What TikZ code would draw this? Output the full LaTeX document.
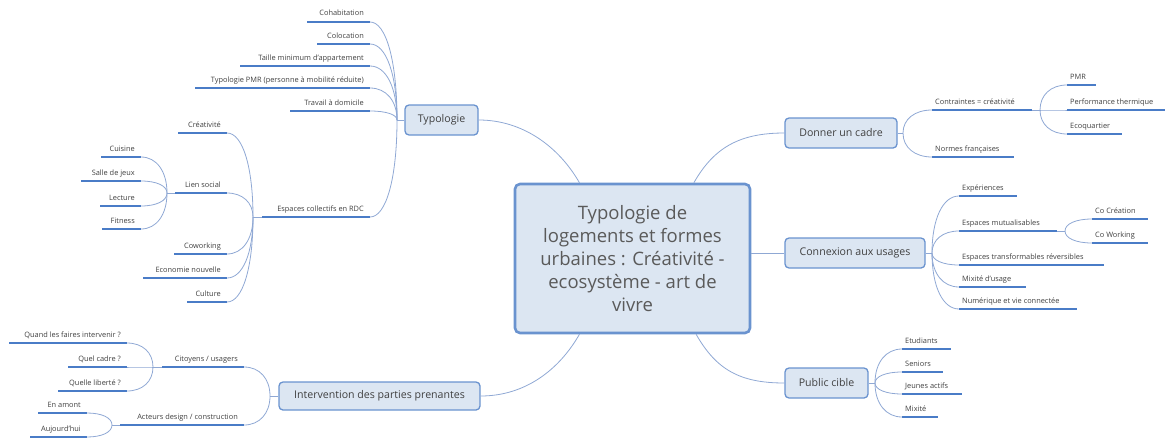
\documentclass[tikz,border=0pt]{standalone}
\usepackage{fontspec}
\setmainfont{Open Sans}
\usetikzlibrary{calc}
\definecolor{boxfill}{HTML}{DCE6F2}
\definecolor{boxline}{HTML}{6A93CF}
\definecolor{ulcol}{HTML}{4A7CC7}
\definecolor{conncol}{HTML}{8FA8D4}
\definecolor{txt}{HTML}{404040}
\definecolor{ctxt}{HTML}{5A5A5A}
\tikzset{
  mainbox/.style={draw=boxline, fill=boxfill, line width=1.3pt, rounded corners=4pt,
    text=txt, font=\fontsize{10.6}{12}\selectfont, inner sep=0pt},
  centerbox/.style={draw=boxline, fill=boxfill, line width=2.6pt, rounded corners=5pt,
    text=ctxt, align=center, font=\fontsize{18.5}{23}\selectfont, inner sep=0pt},
  leaf/.style={text=txt, font=\fontsize{7.4}{8}\selectfont, inner sep=0pt},
  ul/.style={draw=ulcol, line width=2.6pt},
  cn/.style={draw=conncol, line width=0.8pt},
}
\newcommand\leafR[5]{%
  \coordinate (#1-a) at (#2,#4);
  \coordinate (#1-b) at (#3,#4);
  \draw[ul] (#1-a) -- (#1-b);
  \node[leaf, anchor=base west] (#1) at (#2+3,#4-6) {#5};}
\newcommand\leafL[5]{%
  \coordinate (#1-a) at (#2,#4);
  \coordinate (#1-b) at (#3,#4);
  \draw[ul] (#1-a) -- (#1-b);
  \node[leaf, anchor=base east] (#1) at (#3-6,#4-6) {#5};}
\newcommand\branch[2]{%
  \draw[cn] (#1) .. controls ($(#1)!0.6!(#1 |- #2)$) and ($(#2)!0.6!(#1 |- #2)$) .. (#2);}
\begin{document}
\begin{tikzpicture}[x=1pt, y=-1pt]
\useasboundingbox (0,0) rectangle (1166,439);

% main boxes
\node[centerbox, minimum width=235pt, minimum height=149pt] (center) at (632.5,258.5)
  {Typologie de\\logements et formes\\urbaines : Créativité -\\ecosystème - art de\\vivre};
\node[mainbox, minimum width=73pt, minimum height=30pt] (typo) at (441.5,120) {Typologie};
\node[mainbox, minimum width=112pt, minimum height=30pt] (donner) at (841,133) {Donner un cadre};
\node[mainbox, minimum width=140pt, minimum height=30pt] (connexion) at (855,253) {Connexion aux usages};
\node[mainbox, minimum width=83pt, minimum height=30pt] (public) at (826.5,383) {Public cible};
\node[mainbox, minimum width=201pt, minimum height=28pt] (interv) at (379.5,396) {Intervention des parties prenantes};

% connectors from center
\draw[cn] (typo.east) .. controls +(45,0) and +(-20,-35) .. (center.125);
\draw[cn] (donner.west) .. controls +(-45,0) and +(20,-35) .. (center.51);
\draw[cn] (connexion.west -| center.east) -- (connexion.west);
\draw[cn] (center.235) .. controls +(-20,35) and +(45,0) .. (interv.east);
\draw[cn] (center.310) .. controls +(20,35) and +(-45,0) .. (public.west);

% fork points
\coordinate (typoF) at (397,120);
\coordinate (espF) at (253,217);
\coordinate (lienF) at (167,193);
\coordinate (intF) at (270,396);
\coordinate (citF) at (153,367);
\coordinate (actF) at (112,425);
\coordinate (donF) at (903,133);
\coordinate (conF) at (1040,110);
\coordinate (cxF) at (932,253);
\coordinate (muF) at (1065,231);
\coordinate (puF) at (875,383);

% Typologie
\draw[cn] (typo.west) -- (typoF);
\leafL{cohab}{307}{370}{22}{Cohabitation}
\leafL{coloc}{317}{370}{44}{Colocation}
\leafL{taille}{240}{370}{66}{Taille minimum d'appartement}
\leafL{pmr}{195}{370}{88}{Typologie PMR (personne à mobilité réduite)}
\leafL{travail}{290}{370}{111}{Travail à domicile}
\leafL{espaces}{262}{370}{217}{Espaces collectifs en RDC}
\foreach \n in {cohab,coloc,taille,pmr,travail,espaces} {\branch{typoF}{\n-b}}

% Espaces collectifs
\draw[cn] (espaces-a) -- (espF);
\leafL{crea}{178}{227}{133}{Créativité}
\leafL{lien}{175}{227}{193}{Lien social}
\leafL{cowork}{174}{227}{254}{Coworking}
\leafL{eco}{143}{227}{278}{Economie nouvelle}
\leafL{culture}{187}{227}{302}{Culture}
\foreach \n in {crea,lien,cowork,eco,culture} {\branch{espF}{\n-b}}

% Lien social
\draw[cn] (lien-a) -- (lienF);
\leafL{cuisine}{101}{141}{157}{Cuisine}
\leafL{salle}{81}{141}{181}{Salle de jeux}
\leafL{lecture}{100}{141}{206}{Lecture}
\leafL{fitness}{102}{141}{229}{Fitness}
\foreach \n in {cuisine,salle,lecture,fitness} {\branch{lienF}{\n-b}}

% Intervention
\draw[cn] (interv.west) -- (intF);
\leafL{citoyens}{162}{244}{367}{Citoyens / usagers}
\leafL{acteurs}{120}{244}{425}{Acteurs design / construction}
\foreach \n in {citoyens,acteurs} {\branch{intF}{\n-b}}

\draw[cn] (citoyens-a) -- (citF);
\leafL{quand}{9}{127}{343}{Quand les faires intervenir ?}
\leafL{quel}{68}{127}{367}{Quel cadre ?}
\leafL{liberte}{58}{127}{391}{Quelle liberté ?}
\foreach \n in {quand,quel,liberte} {\branch{citF}{\n-b}}

\draw[cn] (acteurs-a) -- (actF);
\leafL{amont}{38}{87}{413}{En amont}
\leafL{auj}{30}{87}{437}{Aujourd'hui}
\foreach \n in {amont,auj} {\branch{actF}{\n-b}}

% Donner un cadre
\draw[cn] (donner.east) -- (donF);
\leafR{contraintes}{932}{1032}{110}{Contraintes = créativité}
\leafR{normes}{932}{1014}{157}{Normes françaises}
\foreach \n in {contraintes,normes} {\branch{donF}{\n-a}}

\draw[cn] (contraintes-b) -- (conF);
\leafR{pmrb}{1067}{1096}{85}{PMR}
\leafR{perf}{1067}{1165}{110}{Performance thermique}
\leafR{ecoq}{1067}{1122}{134}{Ecoquartier}
\foreach \n in {pmrb,perf,ecoq} {\branch{conF}{\n-a}}

% Connexion aux usages
\draw[cn] (connexion.east) -- (cxF);
\leafR{exp}{959}{1017}{196}{Expériences}
\leafR{mutu}{959}{1057}{231}{Espaces mutualisables}
\leafR{transf}{959}{1104}{265}{Espaces transformables réversibles}
\leafR{mixu}{959}{1026}{287}{Mixité d'usage}
\leafR{num}{959}{1077}{309}{Numérique et vie connectée}
\foreach \n in {exp,mutu,transf,mixu,num} {\branch{cxF}{\n-a}}

\draw[cn] (mutu-b) -- (muF);
\leafR{cocrea}{1092}{1148}{219}{Co Création}
\leafR{cowk}{1092}{1148}{243}{Co Working}
\foreach \n in {cocrea,cowk} {\branch{muF}{\n-a}}

% Public cible
\draw[cn] (public.east) -- (puF);
\leafR{etud}{902}{951}{349}{Etudiants}
\leafR{seniors}{902}{943}{372}{Seniors}
\leafR{jeunes}{902}{962}{394}{Jeunes actifs}
\leafR{mixite}{902}{938}{417}{Mixité}
\foreach \n in {etud,seniors,jeunes,mixite} {\branch{puF}{\n-a}}
\end{tikzpicture}
\end{document}
